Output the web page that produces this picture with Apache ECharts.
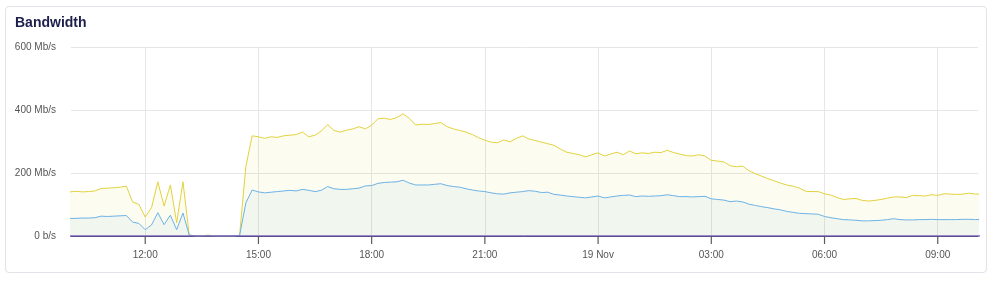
<!DOCTYPE html>
<html>
<head>
<meta charset="utf-8">
<script src="https://cdn.jsdelivr.net/npm/echarts@6/dist/echarts.min.js"></script>
<style>
html,body{margin:0;padding:0;background:#fff;}
#card{position:absolute;left:5px;top:6px;width:980px;height:265px;border:1px solid #e2e2ea;border-radius:4px;box-sizing:content-box;}
#chart{position:absolute;left:0;top:0;width:994px;height:282px;}
</style>
</head>
<body>
<div id="card"></div>
<div id="chart"></div>
<script>
// Data sampled every 10 minutes starting 18 Nov 10:00
const startTime = new Date(2023, 10, 18, 10, 0).getTime();
const stepMinutes = 10;

const inTraffic = [
  140,142,140,141,143,151,152,153,155,158,
  108,100,60,90,172,95,162,42,172,3,
  0,0,3,0,0,0,0,2,220,318,
  315,310,315,313,318,320,322,330,315,320,
  333,354,335,330,336,340,347,340,352,372,
  374,370,376,388,373,352,355,354,357,360,
  347,340,335,330,322,312,304,298,296,305,
  299,310,318,308,303,298,293,288,276,266,
  262,258,251,258,264,254,260,266,258,270,
  261,264,262,266,265,272,265,260,255,254,
  258,254,240,238,235,223,220,222,207,198,
  190,182,175,168,162,158,152,142,141,141,
  134,130,122,116,118,119,113,111,113,116,
  120,124,124,122,129,128,127,131,129,134,
  133,132,133,136,133,133
];

const outTraffic = [
  56,56,57,57,58,63,62,63,64,65,
  44,40,20,35,74,36,66,20,73,3,
  0,0,0,0,0,0,0,1,105,146,
  140,137,139,141,143,145,143,148,145,141,
  145,157,150,148,148,150,152,159,160,167,
  170,171,172,177,168,162,162,162,164,166,
  160,157,155,150,146,143,141,137,134,133,
  137,139,141,144,142,138,139,132,130,127,
  125,123,121,124,127,121,124,127,129,130,
  125,127,126,127,128,131,128,125,125,124,
  125,126,118,116,114,109,111,108,101,97,
  93,90,86,83,78,75,72,71,70,69,
  62,58,55,52,51,50,48,48,49,50,
  52,55,52,51,51,52,52,53,52,52,
  52,52,53,53,52,53
];

const baseline = inTraffic.map(() => 0);

const tickLabels = ['12:00','15:00','18:00','21:00','19 Nov','03:00','06:00','09:00'];
const firstTickTime = new Date(2023, 10, 18, 12, 0).getTime();
const tickStepHours = 3;
const yTicks = [0, 200, 400, 600];

const xMin = new Date(2023, 10, 18, 10, 2).getTime();
const xMax = new Date(2023, 10, 19, 10, 4).getTime();

const times = inTraffic.map((_, i) => startTime + i * stepMinutes * 60000);
const pairs = arr => arr.map((v, i) => [times[i], v]);
const tickTimes = tickLabels.map((_, i) => firstTickTime + i * tickStepHours * 3600000);

const font = '"Liberation Sans", Arial, Helvetica, sans-serif';

const chart = echarts.init(document.getElementById('chart'), null, {renderer: 'canvas'});
chart.setOption({
  animation: false,
  title: {
    text: 'Bandwidth', left: 10, top: 11,
    textStyle: {fontFamily: font, fontSize: 14, fontWeight: 'bold', color: '#1c1f4c'}
  },
  grid: [
    {left: 71, right: 16, top: 47, bottom: 46},
    {left: 71, right: 16, top: 236, height: 8}
  ],
  xAxis: [
    {
      type: 'value', min: xMin, max: xMax, gridIndex: 0,
      axisLine: {show: true, lineStyle: {color: '#333', width: 1}},
      axisTick: {show: false, customValues: tickTimes},
      axisLabel: {
        customValues: tickTimes,
        formatter: v => { const i = tickTimes.indexOf(+v); return i >= 0 ? tickLabels[i] : ''; },
        color: '#555', fontSize: 10, margin: 14, fontFamily: font
      },
      splitLine: {show: true, lineStyle: {color: '#e6e6e6', width: 1}}
    },
    {
      type: 'value', min: xMin, max: xMax, gridIndex: 1, show: false
    }
  ],
  yAxis: [
    {
      type: 'value', min: yTicks[0], max: yTicks[yTicks.length - 1], interval: 200, gridIndex: 0,
      axisLine: {show: false}, axisTick: {show: false},
      axisLabel: {
        formatter: v => v === 0 ? '0 b/s' : v + ' Mb/s',
        color: '#555', fontSize: 10, margin: 15, fontFamily: font
      },
      splitLine: {show: true, lineStyle: {color: '#e6e6e6', width: 1}}
    },
    {
      type: 'value', min: 0, max: 1, gridIndex: 1, show: false
    }
  ],
  series: [
    {
      name: 'In', type: 'line', data: pairs(inTraffic), showSymbol: false, symbol: 'none',
      lineStyle: {color: '#e2d23e', width: 1},
      itemStyle: {color: '#e2d23e'},
      areaStyle: {color: 'rgba(232,212,60,0.1)'},
      z: 2
    },
    {
      name: 'Out', type: 'line', data: pairs(outTraffic), showSymbol: false, symbol: 'none',
      lineStyle: {color: '#6db2e6', width: 1},
      itemStyle: {color: '#6db2e6'},
      areaStyle: {color: 'rgba(90,175,215,0.1)'},
      z: 3
    },
    {
      name: 'Base', type: 'line', data: pairs(baseline), showSymbol: false, symbol: 'none',
      lineStyle: {color: '#7e66c6', width: 1.5},
      z: 4
    },
    {
      name: 'Ticks', type: 'scatter', xAxisIndex: 1, yAxisIndex: 1,
      data: tickTimes.map(t => [t, 0.5]),
      symbol: 'rect', symbolSize: [1.2, 8],
      itemStyle: {color: '#333'},
      silent: true, clip: false
    }
  ]
});
</script>
</body>
</html>
